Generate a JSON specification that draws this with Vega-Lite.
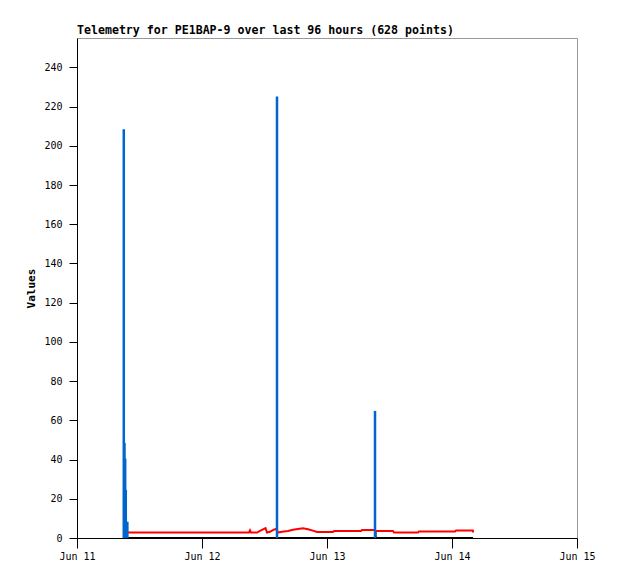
{
  "$schema": "https://vega.github.io/schema/vega-lite/v6.json",
  "width": 500,
  "height": 500,
  "autosize": "none",
  "padding": {"left": 77, "top": 38, "right": 41, "bottom": 41},
  "background": "white",
  "config": {
    "view": {"stroke": "#999999", "strokeWidth": 1},
    "font": "DejaVu Sans Mono",
    "axis": {"grid": false, "domainColor": "#000000", "tickColor": "#000000", "labelColor": "#000000", "labelFont": "DejaVu Sans Mono", "labelFontSize": 10, "titleFont": "DejaVu Sans Mono", "titleColor": "#000000"}
  },
  "title": {"text": "Telemetry for PE1BAP-9 over last 96 hours (628 points)", "anchor": "start", "frame": "group", "font": "DejaVu Sans Mono", "fontSize": 11.6, "fontWeight": "bold", "color": "#000000", "offset": 1},
  "data": {"values": [
    {"t": "2023-06-11T09:36", "v": 0, "s": "black"},
    {"t": "2023-06-13T09:16", "v": 0, "s": "black"},
    {"t": "2023-06-13T09:17", "v": 3.5, "s": "black"},
    {"t": "2023-06-13T09:19", "v": 3.5, "s": "black"},
    {"t": "2023-06-13T09:20", "v": 0, "s": "black"},
    {"t": "2023-06-14T04:02", "v": 0, "s": "black"},
    {"t": "2023-06-11T09:36", "v": 2.8, "s": "red"},
    {"t": "2023-06-12T09:01", "v": 2.8, "s": "red"},
    {"t": "2023-06-12T09:13", "v": 3.9, "s": "red"},
    {"t": "2023-06-12T09:25", "v": 2.8, "s": "red"},
    {"t": "2023-06-12T10:34", "v": 2.8, "s": "red"},
    {"t": "2023-06-12T11:08", "v": 3.6, "s": "red"},
    {"t": "2023-06-12T11:43", "v": 4.4, "s": "red"},
    {"t": "2023-06-12T12:12", "v": 5.0, "s": "red"},
    {"t": "2023-06-12T12:29", "v": 2.8, "s": "red"},
    {"t": "2023-06-12T13:03", "v": 3.2, "s": "red"},
    {"t": "2023-06-12T13:38", "v": 4.0, "s": "red"},
    {"t": "2023-06-12T14:13", "v": 4.7, "s": "red"},
    {"t": "2023-06-12T14:36", "v": 2.8, "s": "red"},
    {"t": "2023-06-12T15:22", "v": 3.2, "s": "red"},
    {"t": "2023-06-12T16:31", "v": 3.6, "s": "red"},
    {"t": "2023-06-12T17:28", "v": 4.2, "s": "red"},
    {"t": "2023-06-12T18:26", "v": 4.6, "s": "red"},
    {"t": "2023-06-12T19:23", "v": 5.0, "s": "red"},
    {"t": "2023-06-12T20:21", "v": 4.5, "s": "red"},
    {"t": "2023-06-12T21:07", "v": 3.9, "s": "red"},
    {"t": "2023-06-12T22:05", "v": 3.1, "s": "red"},
    {"t": "2023-06-13T01:09", "v": 3.1, "s": "red"},
    {"t": "2023-06-13T01:21", "v": 3.6, "s": "red"},
    {"t": "2023-06-13T06:32", "v": 3.6, "s": "red"},
    {"t": "2023-06-13T06:43", "v": 4.1, "s": "red"},
    {"t": "2023-06-13T09:02", "v": 4.1, "s": "red"},
    {"t": "2023-06-13T09:25", "v": 3.6, "s": "red"},
    {"t": "2023-06-13T12:40", "v": 3.6, "s": "red"},
    {"t": "2023-06-13T12:52", "v": 2.8, "s": "red"},
    {"t": "2023-06-13T17:28", "v": 2.8, "s": "red"},
    {"t": "2023-06-13T17:39", "v": 3.3, "s": "red"},
    {"t": "2023-06-14T00:35", "v": 3.3, "s": "red"},
    {"t": "2023-06-14T00:46", "v": 3.8, "s": "red"},
    {"t": "2023-06-14T04:00", "v": 3.8, "s": "red"},
    {"t": "2023-06-14T04:02", "v": 2.8, "s": "red"},
    {"t": "2023-06-11T08:59", "v": 208.5, "s": "blue"},
    {"t": "2023-06-11T09:07", "v": 48.5, "s": "blue"},
    {"t": "2023-06-11T09:15", "v": 40.5, "s": "blue"},
    {"t": "2023-06-11T09:22", "v": 24.5, "s": "blue"},
    {"t": "2023-06-11T09:40", "v": 8.3, "s": "blue"},
    {"t": "2023-06-12T14:24", "v": 225.2, "s": "blue"},
    {"t": "2023-06-13T09:13", "v": 64.8, "s": "blue"}
  ]},
  "encoding": {
    "x": {"field": "t", "type": "temporal",
      "scale": {"domain": [{"year": 2023, "month": 6, "date": 11}, {"year": 2023, "month": 6, "date": 15}], "nice": false},
      "axis": {"title": null, "format": "%b %d", "tickCount": {"interval": "day", "step": 1}, "tickSize": 10, "labelPadding": 3, "labelFlush": false, "labelOverlap": false}},
    "y": {"field": "v", "type": "quantitative",
      "scale": {"domain": [0, 255], "nice": false, "zero": true},
      "axis": {"title": "Values", "values": [0, 20, 40, 60, 80, 100, 120, 140, 160, 180, 200, 220, 240], "tickSize": 8, "labelPadding": 7, "titleFontWeight": "bold", "titleFontSize": 11, "titlePadding": 7}}
  },
  "layer": [
    {
      "transform": [{"filter": "datum.s !== 'blue'"}],
      "mark": {"type": "line", "strokeWidth": 2},
      "encoding": {
        "color": {"field": "s", "type": "nominal", "scale": {"domain": ["black", "red"], "range": ["#000000", "#ff0000"]}, "legend": null}
      }
    },
    {
      "transform": [{"filter": "datum.s === 'blue'"}],
      "mark": {"type": "rule", "strokeWidth": 2.5, "color": "#0066cc"},
      "encoding": {"y2": {"datum": 0}}
    }
  ]
}
